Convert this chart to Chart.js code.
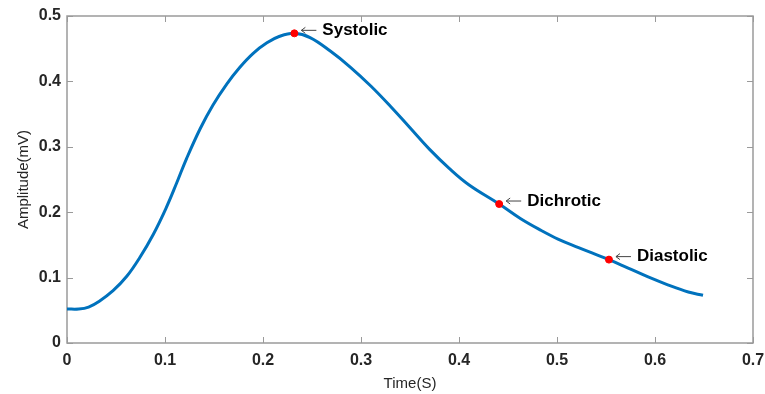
<!DOCTYPE html>
<html>
<head>
<meta charset="utf-8">
<script src="https://cdn.jsdelivr.net/npm/chart.js@4.4.1/dist/chart.umd.min.js"></script>
<style>
  html, body { margin: 0; padding: 0; background: #fff; }
  #wrap { width: 765px; height: 394px; }
</style>
</head>
<body>
<div id="wrap"><canvas id="ppgChart"></canvas></div>
<script>
// pulse waveform, one beat
const timeS = [0, 0.012, 0.022, 0.033, 0.047, 0.061, 0.074, 0.088, 0.101, 0.112, 0.122, 0.136, 0.149, 0.163, 0.176, 0.190, 0.204, 0.217, 0.232,
  0.248, 0.269, 0.289, 0.310, 0.330, 0.350, 0.370, 0.390, 0.410, 0.441, 0.463, 0.484, 0.501, 0.522, 0.553, 0.572, 0.593, 0.613, 0.634, 0.649];
const amplitude = [0.052, 0.052, 0.055, 0.064, 0.080, 0.102, 0.130, 0.166, 0.206, 0.245, 0.282, 0.328, 0.364, 0.396, 0.421, 0.443, 0.459, 0.469, 0.4735,
  0.467, 0.446, 0.422, 0.393, 0.362, 0.329, 0.296, 0.267, 0.242, 0.2125, 0.190, 0.172, 0.159, 0.146, 0.1275, 0.115, 0.101, 0.089, 0.078, 0.073];

// characteristic points
const peakNames = ['Systolic', 'Dichrotic', 'Diastolic'];
const peakTime = [0.232, 0.441, 0.553];
const peakAmp = [0.4735, 0.2125, 0.1275];

const xTicks = [0, 0.1, 0.2, 0.3, 0.4, 0.5, 0.6, 0.7];
const yTicks = [0, 0.1, 0.2, 0.3, 0.4, 0.5];

const axisGray = '#9a9a9a';
const textDark = '#262626';
const fontFam = '"Liberation Sans", Arial, sans-serif';

// box around the axes + inward tick marks, matlab style
const boxTicks = {
  id: 'boxTicks',
  beforeDatasetsDraw(chart) {
    const { ctx, chartArea: a, scales: { x, y } } = chart;
    ctx.save();
    ctx.strokeStyle = axisGray;
    ctx.lineWidth = 1;
    ctx.beginPath();
    xTicks.forEach(v => {
      const px = Math.round(x.getPixelForValue(v)) + 0.5;
      ctx.moveTo(px, a.bottom); ctx.lineTo(px, a.bottom - 6);
      ctx.moveTo(px, a.top); ctx.lineTo(px, a.top + 6);
    });
    yTicks.forEach(v => {
      const py = Math.round(y.getPixelForValue(v)) + 0.5;
      ctx.moveTo(a.left, py); ctx.lineTo(a.left + 6, py);
      ctx.moveTo(a.right, py); ctx.lineTo(a.right - 6, py);
    });
    ctx.stroke();
    ctx.lineWidth = 1.5;
    ctx.strokeRect(a.left, a.top, a.right - a.left, a.bottom - a.top);
    ctx.restore();
  }
};

// "<- name" labels next to the red markers
const peakLabels = {
  id: 'peakLabels',
  afterDatasetsDraw(chart) {
    const { ctx, scales: { x, y } } = chart;
    ctx.save();
    ctx.textBaseline = 'middle';
    peakNames.forEach((name, i) => {
      const px = x.getPixelForValue(peakTime[i]);
      const py = y.getPixelForValue(peakAmp[i]) - 3;
      ctx.strokeStyle = '#444';
      ctx.lineWidth = 1;
      ctx.beginPath();
      ctx.moveTo(px + 7, py); ctx.lineTo(px + 22, py);
      ctx.moveTo(px + 7, py); ctx.lineTo(px + 11, py - 3);
      ctx.moveTo(px + 7, py); ctx.lineTo(px + 11, py + 3);
      ctx.stroke();
      ctx.fillStyle = '#000';
      ctx.font = 'bold 17px ' + fontFam;
      ctx.fillText(name, px + 28, py);
    });
    ctx.restore();
  }
};

new Chart(document.getElementById('ppgChart'), {
  type: 'line',
  data: {
    datasets: [
      {
        label: 'signal',
        data: timeS.map((t, i) => ({ x: t, y: amplitude[i] })),
        borderColor: '#0072BD',
        borderWidth: 3,
        pointRadius: 0,
        tension: 0.4,
        order: 2
      },
      {
        label: 'peaks',
        data: peakTime.map((t, i) => ({ x: t, y: peakAmp[i] })),
        showLine: false,
        pointRadius: 3.5,
        pointBackgroundColor: '#ff0000',
        pointBorderColor: '#ff0000',
        pointBorderWidth: 1,
        order: 1
      }
    ]
  },
  options: {
    responsive: true,
    maintainAspectRatio: false,
    animation: false,
    devicePixelRatio: 1,
    layout: { padding: { top: 16, right: 12, left: 0, bottom: 0 } },
    plugins: { legend: { display: false }, tooltip: { enabled: false } },
    scales: {
      x: {
        type: 'linear', min: 0, max: 0.7,
        afterBuildTicks: s => { s.ticks = xTicks.map(v => ({ value: v })); },
        afterFit: s => { s.height = 51; s.paddingLeft = 0; s.paddingRight = 0; },
        grid: { display: false, drawTicks: false },
        border: { display: false },
        ticks: { color: textDark, padding: 8, font: { size: 16, weight: 'bold', family: fontFam },
          callback: v => String(+v.toFixed(1)) },
        title: { display: true, text: 'Time(S)', color: textDark, padding: { top: 0, bottom: 1 },
          font: { size: 15, family: fontFam } }
      },
      y: {
        min: 0, max: 0.5,
        afterBuildTicks: s => { s.ticks = yTicks.map(v => ({ value: v })); },
        afterFit: s => { s.width = 67; s.paddingTop = 0; s.paddingBottom = 0; },
        grid: { display: false, drawTicks: false },
        border: { display: false },
        ticks: { color: textDark, padding: 6, font: { size: 16, weight: 'bold', family: fontFam },
          callback: v => String(+v.toFixed(1)) },
        title: { display: true, text: 'Amplitude(mV)', color: textDark, padding: { top: 15, bottom: 0 },
          font: { size: 15, family: fontFam } }
      }
    }
  },
  plugins: [boxTicks, peakLabels]
});
</script>
</body>
</html>
